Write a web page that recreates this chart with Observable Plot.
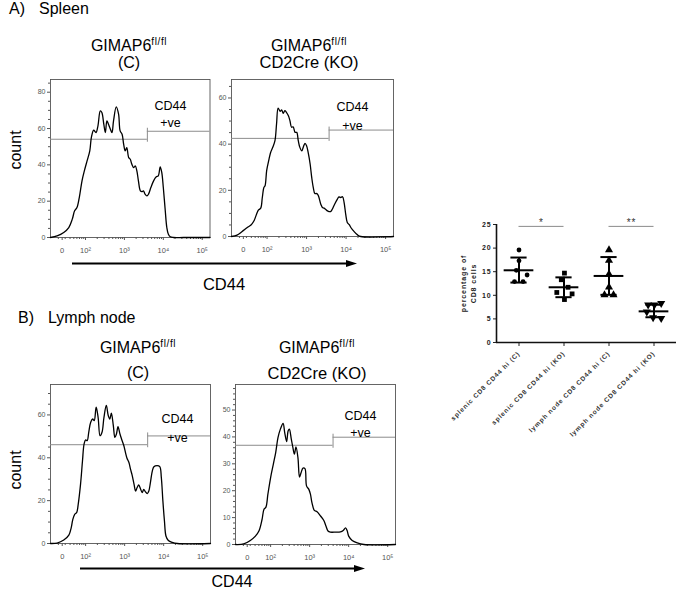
<!DOCTYPE html>
<html><head><meta charset="utf-8">
<script src="https://cdn.jsdelivr.net/npm/d3@7"></script>
<script src="https://cdn.jsdelivr.net/npm/@observablehq/plot@0.6"></script>
<style>
html,body{margin:0;padding:0;background:#fff;}
#root{position:relative;width:676px;height:591px;overflow:hidden;background:#fff;font-family:"Liberation Sans",Arial,Helvetica,sans-serif;}
#root svg{position:absolute;overflow:visible;}
svg.scatter text{letter-spacing:0.9px;}
</style></head>
<body><div id="root"></div>
<script>
// ---------------- DATA ----------------
// histogram points: [log10 CD44 position, cell count]
const spleenC = [[1.10,0],[1.27,0.9],[1.44,2.8],[1.57,5.5],[1.66,10.1],[1.72,14.7],[1.78,16.5],[1.84,22.0],[1.91,31.2],[1.97,36.7],[2.04,42.2],[2.11,47.7],[2.15,55.0],[2.21,59.1],[2.27,57.8],[2.32,61.5],[2.38,69.7],[2.42,68.8],[2.47,62.4],[2.51,57.8],[2.55,64.2],[2.59,62.4],[2.64,59.6],[2.68,57.8],[2.72,64.2],[2.79,71.9],[2.85,67.9],[2.89,58.7],[2.94,56.9],[2.98,51.4],[3.02,47.7],[3.06,49.5],[3.11,44.0],[3.15,43.1],[3.19,40.4],[3.24,38.5],[3.28,39.4],[3.32,36.7],[3.36,31.2],[3.41,25.7],[3.45,25.3],[3.49,25.7],[3.53,23.9],[3.58,22.9],[3.62,23.9],[3.68,27.5],[3.75,31.2],[3.82,33.4],[3.87,33.9],[3.92,38.9],[3.96,35.8],[4.00,27.5],[4.05,14.7],[4.09,5.5],[4.13,1.8],[4.18,0.4],[4.26,0],[4.52,0],[5.20,0]];
const spleenKO = [[1.10,0],[1.24,0.6],[1.37,2.2],[1.50,3.9],[1.60,5.1],[1.67,6.8],[1.75,10.4],[1.78,11.4],[1.84,12.3],[1.88,16.9],[1.92,21.2],[1.95,22.0],[1.99,28.5],[2.05,33.5],[2.09,36.4],[2.15,38.9],[2.20,41.5],[2.24,48.7],[2.28,55.6],[2.33,54.2],[2.37,54.8],[2.41,53.3],[2.45,54.5],[2.49,53.8],[2.54,52.3],[2.58,50.1],[2.62,47.3],[2.66,47.5],[2.71,45.1],[2.75,45.1],[2.79,41.5],[2.83,38.6],[2.88,37.1],[2.92,38.9],[2.96,40.3],[3.00,39.3],[3.04,36.4],[3.09,31.4],[3.13,25.6],[3.17,21.2],[3.21,18.6],[3.26,18.6],[3.30,17.6],[3.36,14.0],[3.40,12.6],[3.44,12.3],[3.48,11.8],[3.53,11.1],[3.57,10.8],[3.61,10.8],[3.65,11.8],[3.71,14.0],[3.78,16.2],[3.82,17.2],[3.86,16.9],[3.91,17.2],[3.95,14.7],[3.99,9.7],[4.03,6.1],[4.08,5.1],[4.12,3.9],[4.20,2.2],[4.29,0.7],[4.37,0],[5.20,0]];
const lymphC = [[1.10,0],[1.27,0.2],[1.44,1.6],[1.57,3.9],[1.63,7.3],[1.67,11.1],[1.72,13.6],[1.77,14.4],[1.81,18.3],[1.87,27.7],[1.92,38.6],[1.96,46.4],[2.00,48.4],[2.04,48.0],[2.08,51.9],[2.13,56.6],[2.18,58.1],[2.22,57.3],[2.27,63.6],[2.32,58.9],[2.37,50.3],[2.42,51.9],[2.47,58.9],[2.53,64.4],[2.58,59.7],[2.62,58.1],[2.66,60.8],[2.71,55.0],[2.75,49.5],[2.79,51.1],[2.83,54.5],[2.88,51.1],[2.92,48.8],[2.98,45.6],[3.02,42.5],[3.06,39.8],[3.11,37.8],[3.15,34.7],[3.19,32.0],[3.24,27.7],[3.28,24.5],[3.32,26.1],[3.36,27.3],[3.41,25.3],[3.45,23.8],[3.49,25.3],[3.53,24.2],[3.58,23.3],[3.62,24.5],[3.66,28.4],[3.71,33.9],[3.75,35.8],[3.83,36.3],[3.90,35.9],[3.94,30.8],[3.98,19.8],[4.02,10.5],[4.06,3.4],[4.12,1.4],[4.22,0.5],[4.35,0],[5.20,0]];
const lymphKO = [[1.10,0],[1.31,0.2],[1.48,1.5],[1.61,3.1],[1.70,5.0],[1.78,9.3],[1.83,13.1],[1.88,13.9],[1.93,18.7],[2.00,24.9],[2.07,29.9],[2.13,34.2],[2.19,39.8],[2.25,42.9],[2.32,45.0],[2.36,41.7],[2.41,38.3],[2.45,42.3],[2.48,42.9],[2.53,39.2],[2.57,36.1],[2.61,33.6],[2.65,36.3],[2.70,32.3],[2.74,25.1],[2.78,26.7],[2.83,28.4],[2.88,28.2],[2.92,21.8],[2.98,20.5],[3.02,18.7],[3.06,15.5],[3.12,12.7],[3.19,12.2],[3.28,10.6],[3.36,9.0],[3.42,6.8],[3.47,5.0],[3.53,4.6],[3.66,4.6],[3.79,4.7],[3.86,5.2],[3.92,6.2],[3.96,5.2],[4.00,3.1],[4.09,1.5],[4.22,0.6],[4.39,0],[5.20,0]];
// gates: [cut position, left segment level, right segment level]
const spleenCGate = [3.59, 54.1, 58.5];
const spleenKOGate = [3.57, 42.5, 46.1];
const lymphCGate = [3.59, 46.1, 50.2];
const lymphKOGate = [3.60, 36.9, 39.9];
const gateText = "CD44\n+ve";
const cd44Domain = [1.1, 5.2];
const cd44Ticks = [1.4, 2, 3, 4, 5];
const cd44TickLabels = ["0", "10²", "10³", "10⁴", "10⁵"];

// scatter (percentage of CD8 cells)
const categories = ["splenic CD8 CD44 hi (C)", "splenic CD8 CD44 hi (KO)", "lymph node CD8 CD44 hi (C)", "lymph node CD8 CD44 hi (KO)"];
const splenicC = [19.6, 17.3, 15.3, 14.3, 12.9, 12.9];
const splenicKO = [14.7, 13.3, 11.7, 10.6, 10.3, 9.1];
const lymphNodeC = [19.6, 17.4, 14.5, 11.7, 10.1, 10.1];
const lymphNodeKO = [8.0, 8.0, 8.3, 6.5, 5.3, 5.1];
const splenicCJitter = [0, 0, -0.06, 0.18, -0.1, 0.09];
const splenicKOJitter = [0.01, -0.06, 0.09, -0.16, 0.18, 0.01];
const lymphNodeCJitter = [0, 0, 0, 0, -0.1, 0.1];
const lymphNodeKOJitter = [-0.13, 0.01, 0.16, -0.16, -0.02, 0.16];
const means = [15.3, 11.7, 14.1, 6.6];
const sdHigh = [18.0, 13.8, 18.1, 8.0];
const sdLow = [12.7, 9.6, 10.1, 5.35];
const pctTicks = [0, 5, 10, 15, 20, 25];
const sigPairs = [[1, 2], [3, 4]];
const sigLabels = ["*", "**"];
const sigLevel = 24.6;

// ---------------- DRAWING ----------------
const FONT = '"Liberation Sans", Arial, Helvetica, sans-serif';
const root = document.getElementById("root");
function place(svg, left, top) { svg.style.left = left + "px"; svg.style.top = top + "px"; root.appendChild(svg); }

const cd44Minor = [];
for (let e = 1; e <= 4; e++) for (let k = 2; k <= 9; k++) {
  const v = e + Math.log10(k);
  if (v > cd44Domain[0] && v < cd44Domain[1]) cd44Minor.push(v);
}

function histogram(data, gate, yMax, yTicks, yMinorStep, frame, lbl) {
  const [fx, fy, fw, fh] = frame;
  const mL = 22, mR = 1, mT = 1, mB = 26;
  const pts = data.map(([u, c]) => ({u, c}));
  const yMinor = d3.range(0, yMax, yMinorStep).filter(v => !yTicks.includes(v));
  const svg = Plot.plot({
    width: fw + mL + mR, height: fh + mT + mB,
    marginLeft: mL, marginRight: mR, marginTop: mT, marginBottom: mB,
    x: {domain: cd44Domain},
    y: {domain: [0, yMax]},
    style: {background: "transparent", fontFamily: FONT, color: "#555", overflow: "visible"},
    marks: [
      Plot.frame({stroke: "#555", strokeWidth: 0.9}),
      Plot.axisY({ticks: yTicks, tickSize: 3, tickPadding: 2, fontSize: 7, label: null}),
      Plot.axisY({ticks: yMinor, tickSize: 2, tickFormat: () => "", label: null}),
      Plot.axisX({ticks: cd44Ticks, tickSize: 3, tickPadding: 7, fontSize: 7.5, label: null,
        tickFormat: d => cd44TickLabels[cd44Ticks.indexOf(d)]}),
      Plot.axisX({ticks: cd44Minor, tickSize: 2, tickFormat: () => "", label: null}),
      Plot.ruleY([gate[1]], {x1: cd44Domain[0], x2: gate[0], stroke: "#8c8c8c", strokeWidth: 1}),
      Plot.ruleY([gate[2]], {x1: gate[0], x2: cd44Domain[1], stroke: "#8c8c8c", strokeWidth: 1}),
      Plot.ruleX([gate[0]], {y1: gate[2], y2: gate[1], insetTop: -3, insetBottom: -3, stroke: "#8c8c8c", strokeWidth: 1}),
      Plot.line(pts, {x: "u", y: "c", stroke: "#000", strokeWidth: 1.3, curve: "catmull-rom"}),
      Plot.text([gateText], {frameAnchor: "top-right", textAnchor: "middle", lineAnchor: "top",
        dx: lbl.dx, dy: lbl.dy, fontSize: 12.5, lineHeight: lbl.lh, fill: "#000", ariaLabel: "gatelbl"})
    ]
  });
  svg.querySelectorAll('g[aria-label="gatelbl"] text').forEach(t => {
    const tr = t.getAttribute("transform") || "";
    const x = t.getAttribute("x"), y = t.getAttribute("y");
    if (x !== null || y !== null) {
      t.removeAttribute("x"); t.removeAttribute("y");
      t.setAttribute("transform", `${tr} translate(${x || 0},${y || 0}) scale(${lbl.sx},1)`);
    } else {
      t.setAttribute("transform", `${tr} scale(${lbl.sx},1)`);
    }
  });
  place(svg, fx - mL, fy - mT);
}

histogram(spleenC, spleenCGate, 87, [0, 20, 40, 60, 80], 5, [50, 79, 159.5, 158], {dx: -39.5, dy: 18, lh: 1.36, sx: 0.8});
histogram(spleenKO, spleenKOGate, 68, [0, 20, 40, 60], 5, [231, 79, 162, 157], {dx: -41, dy: 18, lh: 1.5, sx: 0.75});
histogram(lymphC, lymphCGate, 74.2, [0, 20, 40, 60], 5, [50, 384, 160, 159], {dx: -33, dy: 25, lh: 1.5, sx: 1.05});
histogram(lymphKO, lymphKOGate, 59.5, [0, 10, 20, 30, 40, 50], 2, [235, 384, 160, 160], {dx: -35, dy: 23, lh: 1.36, sx: 0.82});

// ----- scatter -----
const triangleDown = {
  draw(ctx, size) {
    const s3 = Math.sqrt(3);
    const y = -Math.sqrt(size / (s3 * 3));
    ctx.moveTo(0, -y * 2);
    ctx.lineTo(-s3 * y, y);
    ctx.lineTo(s3 * y, y);
    ctx.closePath();
  }
};
const groupValues = [splenicC, splenicKO, lymphNodeC, lymphNodeKO];
const groupJitter = [splenicCJitter, splenicKOJitter, lymphNodeCJitter, lymphNodeKOJitter];
const groupSymbols = ["circle", "square", "triangle", triangleDown];
const groupR = [2.4, 2.7, 3.0, 3.0];
const pts = groupValues.flatMap((vals, gi) => vals.map((v, j) => ({g: gi + 1, x: gi + 1 + groupJitter[gi][j], v})));
const stats = categories.map((c, i) => ({g: i + 1, mean: means[i], hi: sdHigh[i], lo: sdLow[i]}));
const caps = stats.flatMap(d => [{g: d.g, y: d.hi}, {g: d.g, y: d.lo}]);
const xDom = [0.5, 4.5];

const scatter = Plot.plot({
  className: "scatter",
  width: 246, height: 228, marginLeft: 66, marginRight: 0, marginTop: 10, marginBottom: 100,
  x: {domain: xDom},
  y: {domain: [0, 25]},
  style: {background: "transparent", fontFamily: FONT, color: "#222", overflow: "visible"},
  marks: [
    Plot.axisY({ticks: pctTicks, tickSize: 3, tickPadding: 2, fontSize: 7, fontWeight: "bold", label: null}),
    Plot.axisX({ticks: [1, 2, 3, 4], tickFormat: d => categories[d - 1], tickRotate: -45, tickSize: 4, tickPadding: 6, fontSize: 6.5, fontWeight: "bold", fill: "#333", label: null}),
    Plot.ruleY([0], {stroke: "#111", strokeWidth: 1.6}),
    Plot.ruleX([xDom[0]], {stroke: "#111", strokeWidth: 1.6}),
    Plot.ruleX(stats, {x: "g", y1: "lo", y2: "hi", stroke: "#000", strokeWidth: 2}),
    Plot.ruleY(stats, {y: "mean", x1: d => d.g - 0.33, x2: d => d.g + 0.33, stroke: "#000", strokeWidth: 2}),
    Plot.ruleY(caps, {y: "y", x1: d => d.g - 0.18, x2: d => d.g + 0.18, stroke: "#000", strokeWidth: 2}),
    ...[0, 1, 2, 3].map(gi => Plot.dot(pts.filter(d => d.g === gi + 1), {x: "x", y: "v", symbol: groupSymbols[gi], r: groupR[gi], fill: "#000", stroke: "none"})),
    Plot.ruleY(sigPairs, {y: () => sigLevel, x1: d => d[0], x2: d => d[1], stroke: "#8a8a8a", strokeWidth: 1}),
    Plot.text(sigPairs, {x: d => (d[0] + d[1]) / 2, y: () => sigLevel, text: (d, i) => sigLabels[i], lineAnchor: "bottom", dy: 0, fontSize: 10, fill: "#333"}),
    Plot.text(["percentage of\nCD8 cells"], {frameAnchor: "left", textAnchor: "middle", rotate: -90, dx: -29, fontSize: 7, fontWeight: "bold", lineHeight: 1.55, fill: "#222"})
  ]
});
place(scatter, 430, 214);

// ----- overlay labels -----
const ov = d3.create("svg").attr("width", 676).attr("height", 591)
  .style("left", "0px").style("top", "0px").style("font-family", FONT);
function txt(x, y, s, size, anchor = "start") {
  return ov.append("text").attr("x", x).attr("y", y).attr("font-size", size).attr("text-anchor", anchor).attr("fill", "#000").text(s);
}
const panelLetters = ["A)", "B)"];
const panelNames = ["Spleen", "Lymph node"];
txt(9, 13.5, panelLetters[0], 16); txt(39, 13.5, panelNames[0], 16);
txt(18, 323, panelLetters[1], 16); txt(48, 323, panelNames[1], 16);

function gimap(cx, y) {
  const t = ov.append("text").attr("x", cx).attr("y", y).attr("font-size", 16).attr("text-anchor", "middle").attr("fill", "#000");
  t.append("tspan").text("GIMAP6");
  t.append("tspan").attr("dy", -6).attr("font-size", 10).attr("letter-spacing", 0.6).text("fl/fl");
}
const subTitles = ["(C)", "CD2Cre (KO)"];
gimap(129, 51); txt(129, 67.5, subTitles[0], 16, "middle");
gimap(309, 51); txt(309, 67.5, subTitles[1], 16.5, "middle");
gimap(138, 353); txt(138, 378, subTitles[0], 16, "middle");
gimap(317, 353); txt(317, 379, subTitles[1], 16.5, "middle");

// y-axis label "count"
ov.append("text").attr("transform", "translate(20.5,150) rotate(-90)").attr("text-anchor", "middle").attr("font-size", 16).text("count");
ov.append("text").attr("transform", "translate(20.5,470) rotate(-90)").attr("text-anchor", "middle").attr("font-size", 16).text("count");

// CD44 arrows and labels
function arrow(x1, x2, y) {
  ov.append("line").attr("x1", x1).attr("x2", x2 - 10).attr("y1", y).attr("y2", y).attr("stroke", "#000").attr("stroke-width", 1.8);
  ov.append("path").attr("d", `M${x2},${y} L${x2 - 11},${y - 3.6} L${x2 - 11},${y + 3.6} Z`).attr("fill", "#000");
}
arrow(72, 357, 263.5);
arrow(80, 365, 568.5);
txt(224, 290, "CD44", 16.5, "middle");
txt(232, 586.5, "CD44", 16, "middle");

root.appendChild(ov.node());
</script>
</body></html>
